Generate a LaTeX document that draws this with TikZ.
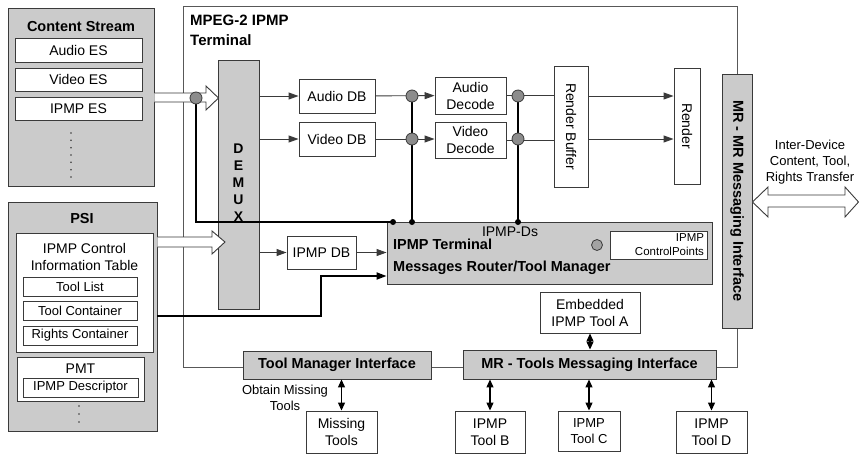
\documentclass[tikz,border=0pt]{standalone}
\usepackage{fontspec}
\setmainfont{Liberation Sans}
\usetikzlibrary{arrows.meta, positioning, calc}
\definecolor{BoxGray}{HTML}{CBCBCB}
\definecolor{LineDark}{HTML}{3A3A3A}
\definecolor{TapGray}{HTML}{8C8C8C}
\tikzset{
  wbox/.style={draw=LineDark, line width=0.9pt, fill=white, align=center,
    inner sep=0pt, font=\fontsize{14}{17}\selectfont},
  gbox/.style={draw=LineDark, line width=0.9pt, fill=BoxGray, align=center,
    inner sep=0pt, font=\bfseries\fontsize{14.5}{17}\selectfont},
  termframe/.style={draw=LineDark!85, line width=0.9pt, inner sep=0pt},
  ttl/.style={inner sep=0pt, font=\bfseries\fontsize{14.5}{17}\selectfont},
  lbl/.style={inner sep=0pt, align=center, font=\fontsize{13}{16}\selectfont},
  sz/.style 2 args={minimum width=#1, minimum height=#2},
  flow/.style={-{Triangle[length=10pt, width=7pt]}, line width=0.9pt, draw=LineDark},
  wire/.style={line width=0.9pt, draw=LineDark},
  link/.style={line width=1.8pt, draw=black},
  dflow/.style={{Triangle[length=8pt, width=7pt]}-{Triangle[length=8pt, width=7pt]},
    line width=1.2pt, draw=black},
  tap/.style={circle, draw=LineDark, fill=TapGray, line width=0.8pt,
    minimum size=12pt, inner sep=0pt},
  blockarrow/.style={draw=LineDark, fill=white, line width=0.9pt},
}

\begin{document}
\begin{tikzpicture}[x=1pt, y=-1pt]
  \useasboundingbox (0,0) rectangle (859,456);

  % terminal frame
  \node[termframe, sz={554}{361}] (term) at (460,186.5) {};
  \node[anchor=north west, align=left, inner sep=0pt,
    font=\bfseries\fontsize{15}{20}\selectfont] (termttl) at (190,15) {MPEG-2 IPMP\\Terminal};

  % content stream
  \node[gbox, sz={146}{178}] (cs) at (81,97) {};
  \node[ttl] (csttl) at (81,27) {Content Stream};
  \node[wbox, sz={127}{24}] (aes) at (78.5,50) {Audio ES};
  \node[wbox, sz={127}{23}] (ves) at (78.5,79.5) {Video ES};
  \node[wbox, sz={127}{23}] (ies) at (78.5,108.5) {IPMP ES};
  \foreach \k in {0,...,6}
    \fill[LineDark] (71,133+7.33*\k) circle (0.9pt);

  % PSI
  \node[gbox, sz={149}{229}] (psi) at (82.5,316.5) {};
  \node[ttl] (psittl) at (82,219) {PSI};
  \node[wbox, sz={137}{119}] (cit) at (84.5,292.5) {};
  \node[wbox, draw=none, fill=none] (citttl) at (84.5,256.5) {IPMP Control\\Information Table};
  \node[wbox, sz={114}{19}, font=\fontsize{13}{16}\selectfont] (tlist) at (80,286.5) {Tool List};
  \node[wbox, sz={114}{19}, font=\fontsize{13}{16}\selectfont] (tcont) at (80,310.5) {Tool Container};
  \node[wbox, sz={114}{19}, font=\fontsize{13}{16}\selectfont] (rcont) at (80,335.5) {Rights Container};
  \node[wbox, sz={127}{44}] (pmt) at (80.5,379) {};
  \node[inner sep=0pt, font=\fontsize{14}{17}\selectfont] (pmtttl) at (80.5,369) {PMT};
  \node[wbox, sz={115}{19}, font=\fontsize{13}{16}\selectfont] (ides) at (80.5,387.5) {IPMP Descriptor};
  \foreach \k in {0,1,2}
    \fill[LineDark] (79,406+8*\k) circle (0.9pt);

  % demux and buffers
  \node[gbox, sz={41}{249}] (demux) at (238.5,184.5) {};
  \node[ttl, align=center, font=\bfseries\fontsize{14}{17}\selectfont] (demuxttl) at (238.5,183) {D\\E\\M\\U\\X};
  \node[wbox, sz={76}{34}] (adb) at (337,96) {Audio DB};
  \node[wbox, sz={76}{34}] (vdb) at (337,139) {Video DB};
  \node[wbox, sz={71}{37}] (adec) at (470.5,95.5) {Audio\\Decode};
  \node[wbox, sz={71}{36}] (vdec) at (470.5,140) {Video\\Decode};
  \node[wbox, sz={34}{121}] (rbuf) at (571,126.5) {};
  \node[rotate=-90, inner sep=0pt, font=\fontsize{14}{17}\selectfont] (rbufttl) at (rbuf) {Render Buffer};
  \node[wbox, sz={26}{116}] (rend) at (687,126) {};
  \node[rotate=-90, inner sep=0pt, font=\fontsize{14}{17}\selectfont] (rendttl) at (rend) {Render};
  \node[wbox, sz={69}{33}] (idb) at (321.5,252.5) {IPMP DB};

  % router / tool manager
  \node[gbox, sz={325}{62}] (rtr) at (549.5,253) {};
  \node[inner sep=0pt, font=\fontsize{14}{17}\selectfont] (ipds) at (510,232) {IPMP-Ds};
  \node[anchor=west, align=left, inner sep=0pt,
    font=\bfseries\fontsize{14.5}{22}\selectfont] (rtrttl) at (393,257) {IPMP Terminal\\Messages Router/Tool Manager};
  \node[tap, minimum size=11pt, fill=TapGray!80] (cptap) at (597,245) {};
  \node[wbox, sz={97}{28}, align=right, text width=91pt, inner xsep=3pt,
    font=\fontsize{11.5}{14}\selectfont] (cpts) at (658.5,245) {IPMP\\ControlPoints};

  % MR - MR interface
  \node[gbox, sz={30}{254}] (mrmr) at (737,201) {};
  \node[ttl, rotate=-90] (mrmrttl) at (mrmr) {MR - MR Messaging Interface};
  \node[lbl] (xfer) at (810,162) {Inter-Device\\Content, Tool,\\Rights Transfer};

  % bottom interfaces and tools
  \node[gbox, sz={188}{28}] (tmi) at (337,365) {Tool Manager Interface};
  \node[gbox, sz={253}{29}] (mrt) at (589.5,364.5) {MR - Tools Messaging Interface};
  \node[wbox, sz={71}{42}] (miss) at (341.5,432) {Missing\\Tools};
  \node[wbox, sz={100}{41}] (toola) at (590,312.5) {Embedded\\IPMP Tool A};
  \node[wbox, sz={70}{42}] (toolb) at (490,432) {IPMP\\Tool B};
  \node[wbox, sz={62}{40}, font=\fontsize{13}{16}\selectfont] (toolc) at (589,431) {IPMP\\Tool C};
  \node[wbox, sz={71}{42}] (toold) at (711.5,432) {IPMP\\Tool D};
  \node[lbl] (obtain) at (285,398) {Obtain Missing\\Tools};

  % block arrows
  \draw[blockarrow] (cs.east |- 0,93) -- (206,93) -- (206,86) -- (218.5,98)
    -- (206,110) -- (206,102) -- (cs.east |- 0,102);
  \draw[blockarrow] (psi.east |- 0,237) -- (212,237) -- (212,231) -- (225,242)
    -- (212,254) -- (212,247) -- (psi.east |- 0,247);
  \draw[blockarrow] (mrmr.east |- 0,202) -- (768,187) -- (768,195) -- (845,195)
    -- (845,187) -- (858.5,202) -- (845,217) -- (845,207) -- (768,207)
    -- (768,217) -- cycle;

  % tap points
  \coordinate (t0) at (196,98);
  \coordinate (ta) at (412,96);
  \coordinate (tb) at (412,139);
  \coordinate (tc) at (518,96);
  \coordinate (td) at (518,139);
  \coordinate (j1) at (393,222);
  \coordinate (j2) at (412,222);
  \coordinate (j3) at (518,222);

  % data path
  \draw[flow] (demux.east |- adb) -- (adb);
  \draw[flow] (demux.east |- vdb) -- (vdb);
  \draw[flow] (demux.east |- idb) -- (idb);
  \draw[flow] (adb) -- (adec);
  \draw[flow] (vdb) -- (vdb -| adec.west);
  \draw[wire] (adec.east) -- (rbuf.west |- adec.east);
  \draw[wire] (vdec.east) -- (rbuf.west |- vdec.east);
  \draw[flow] (rbuf.east |- ta) -- (rend.west |- ta);
  \draw[flow] (rbuf.east |- tb) -- (rend.west |- tb);
  \draw[flow] (idb) -- (rtr.west |- idb);

  % IPMP-Ds links
  \draw[link] (t0) |- (j1);
  \draw[link] (ta) -- (j2);
  \draw[link] (tc) -- (j3);
  \draw[link, -{Triangle[length=10pt, width=7pt]}] (psi.east |- 0,316) -| (321,276)
    -- (rtr.west |- 0,276);
  \foreach \j in {j1,j2,j3}
    \fill (\j) circle (3pt);
  \foreach \t in {t0,ta,tb,tc,td}
    \node[tap] (tap-\t) at (\t) {};

  % tool links
  \draw[dflow] (miss.north) -- (miss.north |- tmi.south);
  \draw[dflow] (toola.south) -- (toola.south |- mrt.north);
  \draw[dflow] (toolb.north) -- (toolb.north |- mrt.south);
  \draw[dflow] (toolc.north) -- (toolc.north |- mrt.south);
  \draw[dflow] (toold.north) -- (toold.north |- mrt.south);
\end{tikzpicture}
\end{document}
